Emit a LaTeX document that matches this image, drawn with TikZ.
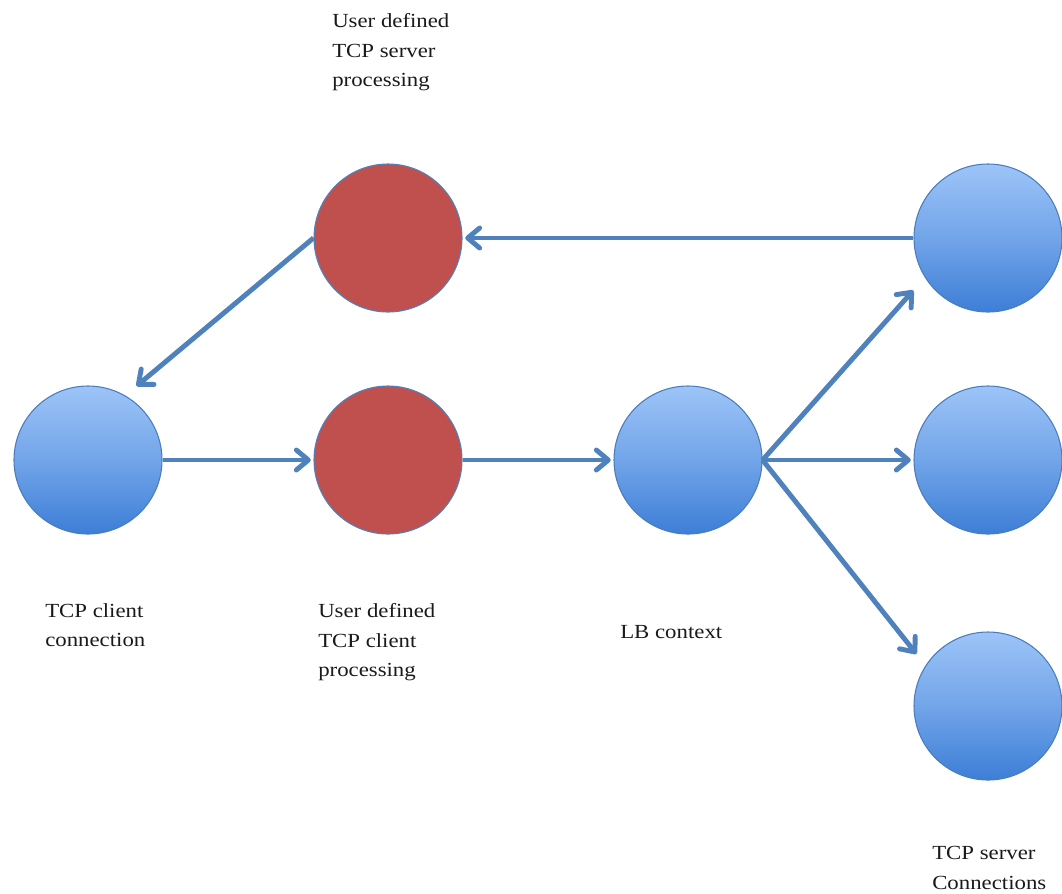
\documentclass[tikz,border=0pt]{standalone}
\usepackage{fontspec}
\setmainfont{Liberation Serif}[FakeStretch=1.14]
\usetikzlibrary{arrows.meta}
\definecolor{arrowblue}{HTML}{4F81BD}
\definecolor{blueTop}{HTML}{9DC4F8}
\definecolor{blueBot}{HTML}{3D7ED6}
\definecolor{blueEdge}{HTML}{4A7DBA}
\definecolor{redFill}{HTML}{C0504D}
\definecolor{textcol}{HTML}{1A1A1A}
\tikzset{
  bluenode/.style={circle, minimum size=111pt, inner sep=0pt, draw=blueEdge, line width=0.8pt, top color=blueTop, bottom color=blueBot, middle color=blueTop!55!blueBot},
  rednode/.style={circle, minimum size=111pt, inner sep=0pt, draw=arrowblue, line width=0.8pt, fill=redFill},
  conn/.style={draw=arrowblue, line width=3.7pt, -{Straight Barb[length=9pt, width=15pt, round]}, shorten >=2pt},
  lbl/.style={anchor=north west, inner sep=0pt, align=left, text=textcol, font=\fontsize{15}{22.3}\selectfont}
}
\begin{document}
\begin{tikzpicture}[x=0.75pt, y=-0.75pt]
\useasboundingbox (0,0) rectangle (1062,893);
\node[bluenode] (cl) at (88,460) {};
\node[rednode] (rt) at (388,238) {};
\node[rednode] (rb) at (388,460) {};
\node[bluenode] (lb) at (688,460) {};
\node[bluenode] (s1) at (988,238) {};
\node[bluenode] (s2) at (988,460) {};
\node[bluenode] (s3) at (988,706) {};

\draw[conn] (cl.east) -- (rb.west);
\draw[conn] (rb.east) -- (lb.west);
\draw[conn] (lb.east) -- (s2.west);
\draw[conn, shorten >=13pt] (lb.east) -- (s1.212);
\draw[conn, shorten >=11pt] (lb.east) -- (s3.147);
\draw[conn] (s1.west) -- (rt.east);
\draw[conn, shorten >=11pt] (rt.west) -- (cl.60);

\node[lbl] (t1) at (332,13) {User defined\\TCP server\\processing};
\node[lbl] (t2) at (45,603) {TCP client\\connection};
\node[lbl] (t3) at (318,603) {User defined\\TCP client\\processing};
\node[lbl] (t4) at (620,625) {LB context};
\node[lbl] (t5) at (932,846) {TCP server\\Connections};
\end{tikzpicture}
\end{document}
